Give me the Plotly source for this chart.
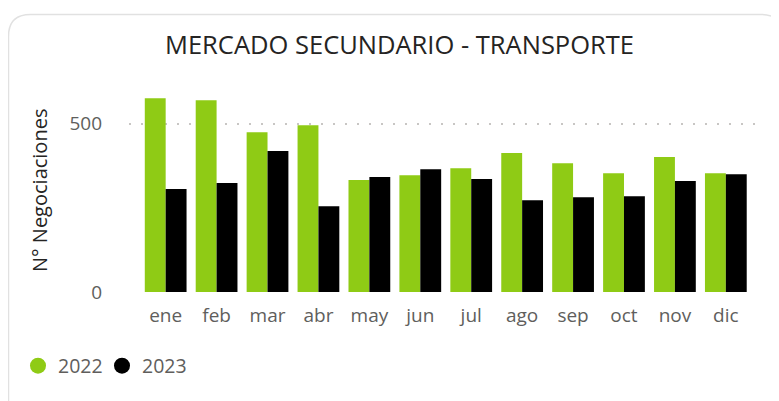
import plotly.graph_objects as go

months = ["ene", "feb", "mar", "abr", "may", "jun", "jul", "ago", "sep", "oct", "nov", "dic"]
v2022 = [576, 570, 475, 496, 333, 347, 368, 413, 383, 353, 401, 353]
v2023 = [306, 324, 419, 255, 342, 365, 336, 273, 282, 285, 330, 350]
series_names = ["2022", "2023"]
colors = ["#8FCB15", "#000000"]

# page body has an 8px margin, so the figure is drawn 8px smaller
W, H = 771, 393
L, R, T, B = 121, 17, 62, 109
pw, ph = W - L - R, H - T - B

fig = go.Figure()
for name, vals, col in zip(series_names, [v2022, v2023], colors):
    fig.add_trace(go.Bar(x=months, y=vals, name=name, marker=dict(color=col, line=dict(width=0)),
                         showlegend=False))
for name, col in zip(series_names, colors):
    fig.add_trace(go.Scatter(x=[None], y=[None], mode="markers", name=name,
                             marker=dict(symbol="circle", size=16, color=col)))

def px(x):
    return (x - L) / pw
def py(y):
    return (H - B - y) / ph

# card border with rounded corners
x0, y0, x1, y1, r = 0.5, 6.5, 775, 420, 22
path = (f"M {px(x0)} {py(y0 + r)} Q {px(x0)} {py(y0)} {px(x0 + r)} {py(y0)} "
        f"L {px(x1 - r)} {py(y0)} Q {px(x1)} {py(y0)} {px(x1)} {py(y0 + r)} "
        f"L {px(x1)} {py(y1)} L {px(x0)} {py(y1)} Z")

fig.update_layout(
    width=W, height=H,
    margin=dict(l=L, r=R, t=T, b=B, autoexpand=False),
    paper_bgcolor="white", plot_bgcolor="white",
    font=dict(family="Open Sans", color="#605E5C", size=19),
    title=dict(text="MERCADO SECUNDARIO - TRANSPORTE", x=391.5 / W, xref="container", xanchor="center",
               y=1 - 37 / H, yref="container", yanchor="middle",
               font=dict(size=25.5, color="#252423", family="Open Sans")),
    barmode="group", bargap=0.18, bargroupgap=0,
    xaxis=dict(range=[-0.72, 11.71], showgrid=False, zeroline=False, showline=False, automargin=False,
               ticks="", ticklabelstandoff=10, tickfont=dict(size=19, color="#605E5C"), fixedrange=True),
    yaxis=dict(range=[0, 660], tickvals=[0, 500], ticktext=["0", "500"], automargin=False,
               showgrid=True, gridcolor="#C8C6C4", gridwidth=1.5, griddash="2px,10px",
               zeroline=False, showline=False, ticks="", ticklabelstandoff=26,
               tickfont=dict(size=19, color="#605E5C")),
    annotations=[dict(text="N° Negociaciones", textangle=-90, xref="paper", yref="paper",
                      x=px(31), y=py(183), xanchor="center", yanchor="middle", showarrow=False,
                      font=dict(size=20, color="#252423"))],
    legend=dict(orientation="h", x=px(10), xanchor="left", y=py(358),
                yanchor="middle", font=dict(size=19.5, color="#605E5C"), itemwidth=30,
                entrywidth=39, entrywidthmode="pixels",
                tracegroupgap=0, bgcolor="rgba(0,0,0,0)"),
    shapes=[dict(type="path", path=path, xref="paper", yref="paper",
                 line=dict(color="#E1E1E1", width=1.5), fillcolor="rgba(0,0,0,0)", layer="below")],
)
fig.write_html("out.html")
